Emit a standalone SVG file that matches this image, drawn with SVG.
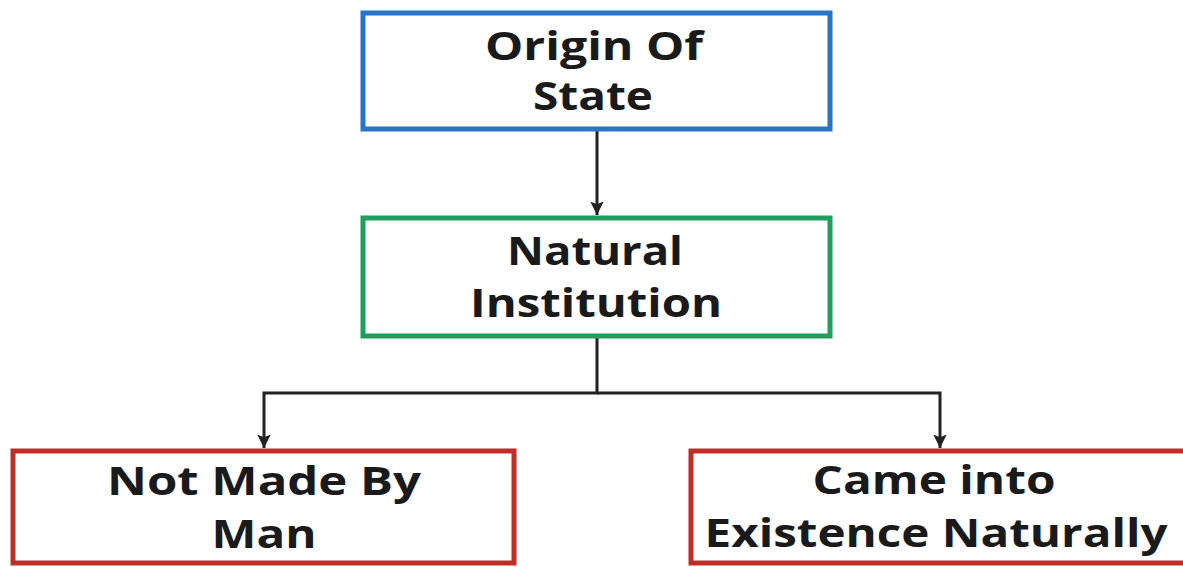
<svg xmlns="http://www.w3.org/2000/svg" width="1183" height="567" viewBox="0 0 1183 567">
  <style>
    .box { fill: #ffffff; stroke-width: 5; }
    .blue { stroke: #2a74c4; }
    .green { stroke: #1f9e5e; }
    .red { stroke: #bb2f28; }
    .label { font-family: "Open Sans", "Noto Sans", sans-serif; font-weight: bold; font-size: 40px; fill: #1a1a1a; text-anchor: middle; }
    .wire { fill: none; stroke: #222222; stroke-width: 3; }
  </style>
  <defs>
    <marker id="arrow" viewBox="0 0 10 10" refX="10" refY="5" markerWidth="4.5" markerHeight="4.5" orient="auto" markerUnits="strokeWidth">
      <path d="M0,0 L10,5 L0,10 L2,5 z" fill="#222222"/>
    </marker>
  </defs>
  <rect width="1183" height="567" fill="#ffffff"/>

  <g id="connectors">
    <path class="wire" d="M597,130 L597,215" marker-end="url(#arrow)"/>
    <path class="wire" d="M597,337 L597,393 L264,393 L264,448" marker-end="url(#arrow)"/>
    <path class="wire" d="M597,393 L940,393 L940,448" marker-end="url(#arrow)"/>
  </g>

  <g id="origin-of-state">
    <rect class="box blue" x="363" y="13" width="467" height="116"/>
    <text class="label" x="594" y="60" textLength="218" lengthAdjust="spacingAndGlyphs">Origin Of</text>
    <text class="label" x="593" y="110" textLength="120" lengthAdjust="spacingAndGlyphs">State</text>
  </g>

  <g id="natural-institution">
    <rect class="box green" x="363" y="218" width="467" height="118"/>
    <text class="label" x="595" y="265" textLength="176" lengthAdjust="spacingAndGlyphs">Natural</text>
    <text class="label" x="596" y="317" textLength="252" lengthAdjust="spacingAndGlyphs">Institution</text>
  </g>

  <g id="not-made-by-man">
    <rect class="box red" x="13" y="451" width="501" height="112"/>
    <text class="label" x="264" y="495" textLength="314" lengthAdjust="spacingAndGlyphs">Not Made By</text>
    <text class="label" x="264" y="548" textLength="105" lengthAdjust="spacingAndGlyphs">Man</text>
  </g>

  <g id="came-into-existence">
    <rect class="box red" x="691" y="451" width="500" height="112"/>
    <text class="label" x="934" y="494" textLength="243" lengthAdjust="spacingAndGlyphs">Came into</text>
    <text class="label" x="936" y="547" textLength="463" lengthAdjust="spacingAndGlyphs">Existence Naturally</text>
  </g>
</svg>
